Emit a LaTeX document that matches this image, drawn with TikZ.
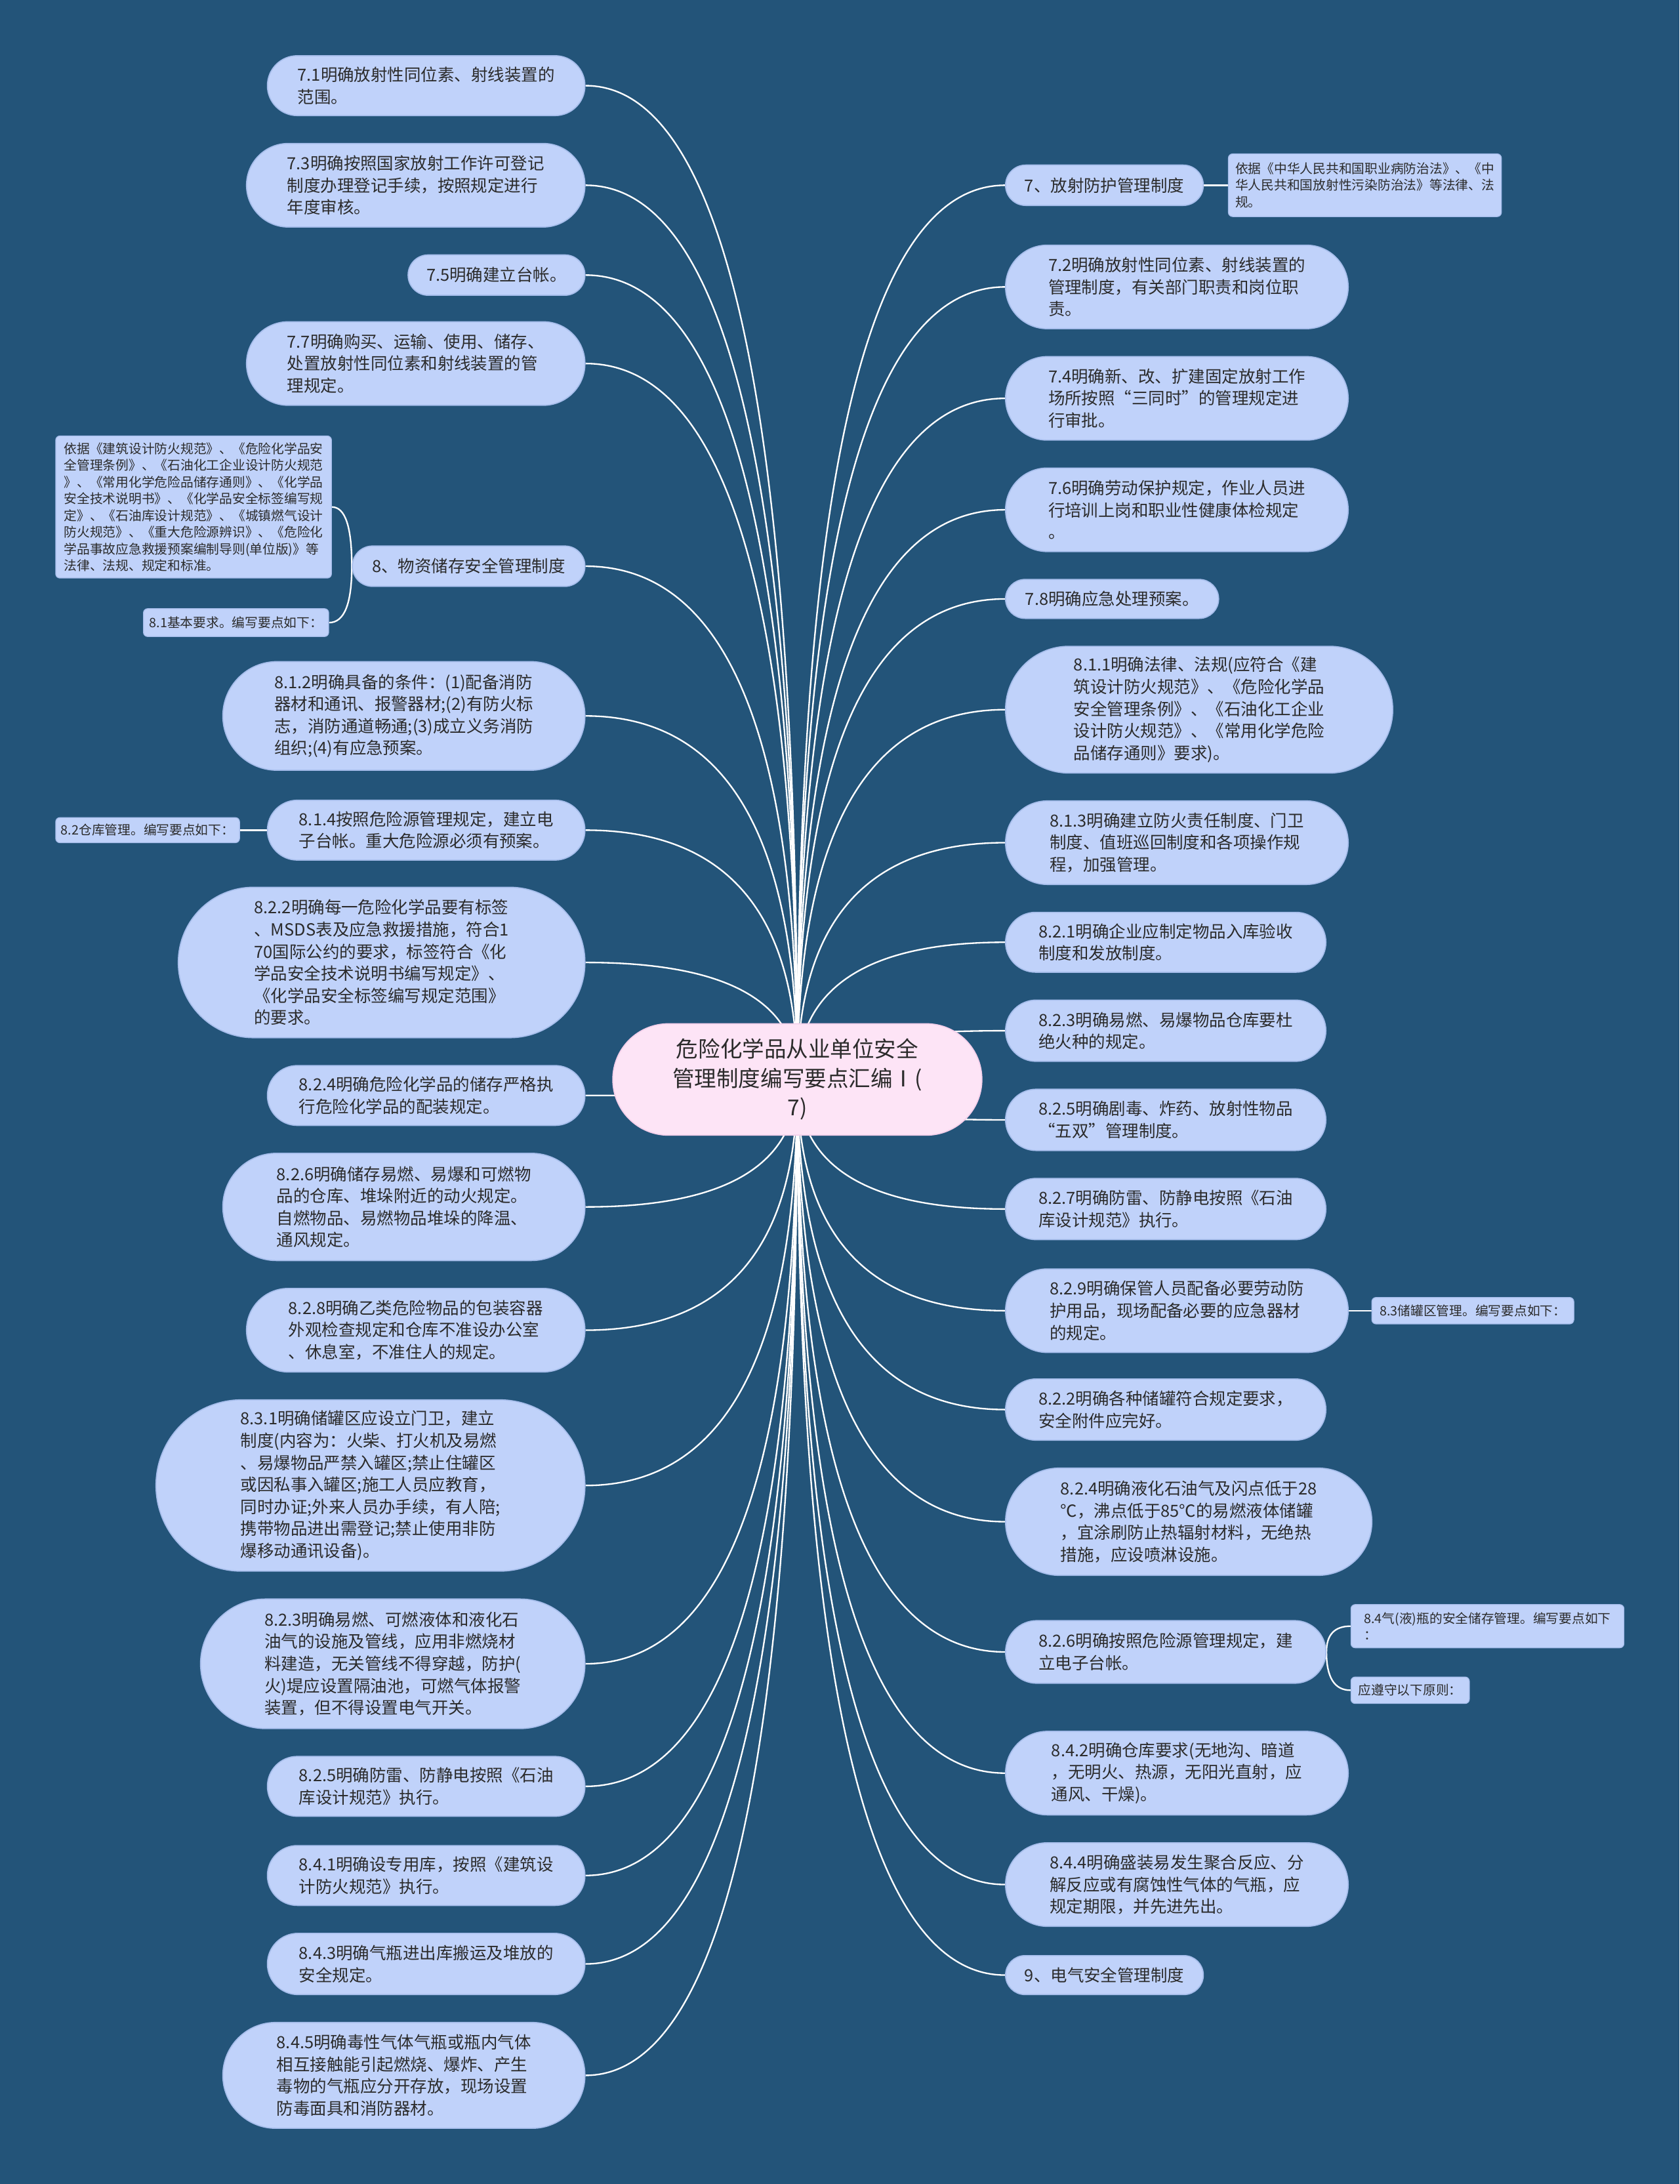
\documentclass[tikz,border=0pt]{standalone}
\usepackage{fontspec}
\newfontfamily\cjk{Noto Sans CJK SC}
\usetikzlibrary{calc}
\pgfdeclarelayer{bg}\pgfdeclarelayer{lk}
\pgfsetlayers{bg,lk,main}
\definecolor{bgc}{HTML}{235479}
\definecolor{nfill}{HTML}{C0D2FA}
\definecolor{nline}{HTML}{A6BDEB}
\definecolor{cfill}{HTML}{FDE4F6}
\definecolor{cline}{HTML}{F3CFEA}
\definecolor{tcol}{HTML}{2B2B2B}
\tikzset{
 mbox/.style={draw=nline, line width=0.8pt, fill=nfill, text=tcol, font=\cjk\fontsize{12}{15.8}\selectfont, align=left, inner sep=0pt},
 nbox/.style={draw=nline, line width=0.6pt, fill=nfill, text=tcol, font=\cjk\fontsize{9.3}{12}\selectfont, align=left, inner sep=0pt, rounded corners=3pt},
 cbox/.style={draw=cline, line width=0.8pt, fill=cfill, text=tcol, font=\cjk\fontsize{15.8}{21}\selectfont, align=center, inner sep=0pt},
 link/.style={draw=white, line width=1.1pt},
}
\newcommand\mn[6]{\node[mbox, minimum width=#4pt, minimum height=#5pt, rounded corners=#5*0.5pt-0.05pt] (#1) at (#2,#3) {#6};}
\newcommand\nn[6]{\node[nbox, minimum width=#4pt, minimum height=#5pt] (#1) at (#2,#3) {#6};}
\newcommand\lk[2]{\draw[link] (#1) .. controls ($(#1)!0.667!(#1 |- #2)$) and ($(#2)!0.667!(#1 |- #2)$) .. (#2);}
\begin{document}
\begin{tikzpicture}[x=1pt,y=-1pt]
\useasboundingbox (0,0) rectangle (1206,1568);
\begin{pgfonlayer}{bg}
\fill[bgc] (0,0) rectangle (1206,1568);
\end{pgfonlayer}

\node[cbox, minimum width=265pt, minimum height=80pt, rounded corners=39.9pt] (C) at (572.5,775) {危险化学品从业单位安全\\管理制度编写要点汇编Ⅰ(\\7)};

% left
\mn{L1}{306}{61.5}{228}{43}{7.1明确放射性同位素、射线装置的\\范围。}
\mn{L2}{298.5}{133}{243}{60}{7.3明确按照国家放射工作许可登记\\制度办理登记手续，按照规定进行\\年度审核。}
\mn{L3}{356.5}{197.5}{127}{29}{7.5明确建立台帐。}
\mn{L4}{298.5}{261}{243}{60}{7.7明确购买、运输、使用、储存、\\处置放射性同位素和射线装置的管\\理规定。}
\mn{L5}{336.5}{406.5}{167}{29}{8、物资储存安全管理制度}
\nn{N1}{139}{364}{198}{102}{依据《建筑设计防火规范》、《危险化学品安\\全管理条例》、《石油化工企业设计防火规范\\》、《常用化学危险品储存通则》、《化学品\\安全技术说明书》、《化学品安全标签编写规\\定》、《石油库设计规范》、《城镇燃气设计\\防火规范》、《重大危险源辨识》、《危险化\\学品事故应急救援预案编制导则(单位版)》等\\法律、法规、规定和标准。}
\nn{N2}{169.5}{447}{133}{20}{8.1基本要求。编写要点如下：}
\mn{L6}{290}{514}{260}{78}{8.1.2明确具备的条件：(1)配备消防\\器材和通讯、报警器材;(2)有防火标\\志，消防通道畅通;(3)成立义务消防\\组织;(4)有应急预案。}
\mn{L7}{306}{596}{228}{43}{8.1.4按照危险源管理规定，建立电\\子台帐。重大危险源必须有预案。}
\nn{N3}{106}{596}{132}{18}{8.2仓库管理。编写要点如下：}
\mn{L8}{274}{691}{292}{108}{8.2.2明确每一危险化学品要有标签\\、MSDS表及应急救援措施，符合1\\70国际公约的要求，标签符合《化\\学品安全技术说明书编写规定》、\\《化学品安全标签编写规定范围》\\的要求。}
\mn{L9}{306}{786.5}{228}{43}{8.2.4明确危险化学品的储存严格执\\行危险化学品的配装规定。}
\mn{L10}{290}{866.5}{260}{77}{8.2.6明确储存易燃、易爆和可燃物\\品的仓库、堆垛附近的动火规定。\\自燃物品、易燃物品堆垛的降温、\\通风规定。}
\mn{L11}{298.5}{955}{243}{60}{8.2.8明确乙类危险物品的包装容器\\外观检查规定和仓库不准设办公室\\、休息室，不准住人的规定。}
\mn{L12}{266}{1066.5}{308}{123}{8.3.1明确储罐区应设立门卫，建立\\制度(内容为：火柴、打火机及易燃\\、易爆物品严禁入罐区;禁止住罐区\\或因私事入罐区;施工人员应教育，\\同时办证;外来人员办手续，有人陪;\\携带物品进出需登记;禁止使用非防\\爆移动通讯设备)。}
\mn{L13}{282}{1194.5}{276}{93}{8.2.3明确易燃、可燃液体和液化石\\油气的设施及管线，应用非燃烧材\\料建造，无关管线不得穿越，防护(\\火)堤应设置隔油池，可燃气体报警\\装置，但不得设置电气开关。}
\mn{L14}{306}{1282.5}{228}{43}{8.2.5明确防雷、防静电按照《石油\\库设计规范》执行。}
\mn{L15}{306}{1346.5}{228}{43}{8.4.1明确设专用库，按照《建筑设\\计防火规范》执行。}
\mn{L16}{306}{1410}{228}{44}{8.4.3明确气瓶进出库搬运及堆放的\\安全规定。}
\mn{L17}{290}{1490}{260}{76}{8.4.5明确毒性气体气瓶或瓶内气体\\相互接触能引起燃烧、爆炸、产生\\毒物的气瓶应分开存放，现场设置\\防毒面具和消防器材。}

% right
\mn{R1}{793}{133}{142}{29}{7、放射防护管理制度}
\nn{N4}{980}{133}{196}{45}{依据《中华人民共和国职业病防治法》、《中\\华人民共和国放射性污染防治法》等法律、法\\规。}
\mn{R2}{845}{206}{246}{60}{7.2明确放射性同位素、射线装置的\\管理制度，有关部门职责和岗位职\\责。}
\mn{R3}{845}{286}{246}{60}{7.4明确新、改、扩建固定放射工作\\场所按照“三同时”的管理规定进\\行审批。}
\mn{R4}{845}{366}{246}{60}{7.6明确劳动保护规定，作业人员进\\行培训上岗和职业性健康体检规定\\。}
\mn{R5}{798.5}{430}{153}{28}{7.8明确应急处理预案。}
\mn{R6}{861}{509.5}{278}{91}{8.1.1明确法律、法规(应符合《建\\筑设计防火规范》、《危险化学品\\安全管理条例》、《石油化工企业\\设计防火规范》、《常用化学危险\\品储存通则》要求)。}
\mn{R7}{845}{605}{246}{60}{8.1.3明确建立防火责任制度、门卫\\制度、值班巡回制度和各项操作规\\程，加强管理。}
\mn{R8}{837}{676.5}{230}{43}{8.2.1明确企业应制定物品入库验收\\制度和发放制度。}
\mn{R9}{837}{740}{230}{44}{8.2.3明确易燃、易爆物品仓库要杜\\绝火种的规定。}
\mn{R10}{837}{804}{230}{44}{8.2.5明确剧毒、炸药、放射性物品\\“五双”管理制度。}
\mn{R11}{837}{868}{230}{44}{8.2.7明确防雷、防静电按照《石油\\库设计规范》执行。}
\mn{R12}{845}{941}{246}{60}{8.2.9明确保管人员配备必要劳动防\\护用品，现场配备必要的应急器材\\的规定。}
\nn{N5}{1057.5}{941}{145}{19}{8.3储罐区管理。编写要点如下：}
\mn{R13}{837}{1012}{230}{44}{8.2.2明确各种储罐符合规定要求，\\安全附件应完好。}
\mn{R14}{853.5}{1092.5}{263}{77}{8.2.4明确液化石油气及闪点低于28\\℃，沸点低于85℃的易燃液体储罐\\，宜涂刷防止热辐射材料，无绝热\\措施，应设喷淋设施。}
\mn{R15}{837}{1186}{230}{45}{8.2.6明确按照危险源管理规定，建\\立电子台帐。}
\nn{N6}{1068}{1167.5}{196}{31}{8.4气(液)瓶的安全储存管理。编写要点如下\\：}
\nn{N7}{1012.5}{1213.5}{85}{19}{应遵守以下原则：}
\mn{R16}{845}{1273}{246}{60}{8.4.2明确仓库要求(无地沟、暗道\\，无明火、热源，无阳光直射，应\\通风、干燥)。}
\mn{R17}{845}{1353}{246}{60}{8.4.4明确盛装易发生聚合反应、分\\解反应或有腐蚀性气体的气瓶，应\\规定期限，并先进先出。}
\mn{R18}{793}{1418}{142}{28}{9、电气安全管理制度}

\begin{pgfonlayer}{lk}
\foreach \n in {L1,L2,L3,L4,L5,L6,L7,L8,L9,L10,L11,L12,L13,L14,L15,L16,L17}{\lk{C.center}{\n.east}}
\foreach \n in {R1,R2,R3,R4,R5,R6,R7,R8,R9,R10,R11,R12,R13,R14,R15,R16,R17,R18}{\lk{C.center}{\n.west}}
\lk{L5.west}{N1.east}
\lk{L5.west}{N2.east}
\draw[link] (L7.west) -- (N3.east);
\draw[link] (R1.east) -- (N4.west);
\draw[link] (R12.east) -- (N5.west);
\lk{R15.east}{N6.west}
\lk{R15.east}{N7.west}
\end{pgfonlayer}
\end{tikzpicture}
\end{document}
